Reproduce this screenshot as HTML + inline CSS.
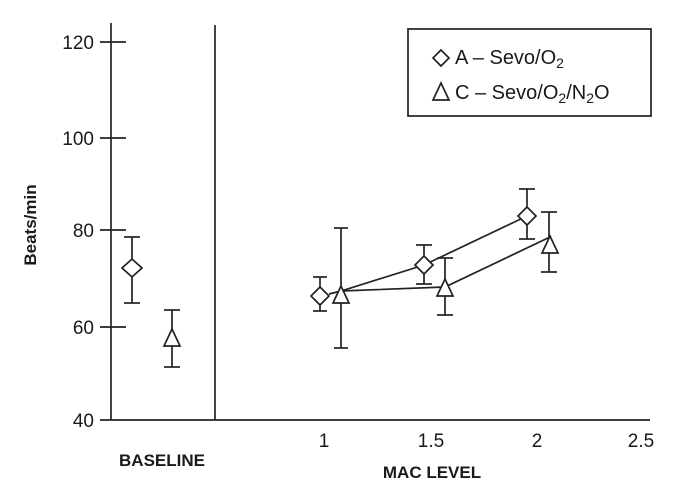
<!DOCTYPE html>
<html><head><meta charset="utf-8"><style>
html,body{margin:0;padding:0;background:#fff}
svg{display:block}
text{font-family:"Liberation Sans",sans-serif;fill:#1a1a1a}
</style></head><body>
<svg width="687" height="501" viewBox="0 0 687 501" xmlns="http://www.w3.org/2000/svg">
<g stroke="#222" stroke-width="1.7" fill="none">
<line x1="111" y1="23" x2="111" y2="420"/>
<line x1="215" y1="25" x2="215" y2="420"/>
<line x1="100" y1="420" x2="650" y2="420"/>
<line x1="100" y1="42" x2="126" y2="42"/>
<line x1="100" y1="138" x2="126" y2="138"/>
<line x1="100" y1="230" x2="126" y2="230"/>
<line x1="100" y1="327" x2="126" y2="327"/>
<rect x="408" y="29" width="243" height="87"/>
<polyline points="329,294 341,291 424,265 527,216"/>
<polyline points="341,291 445,287 550,237"/>
<g>
<line x1="132" y1="237" x2="132" y2="303"/><line x1="124" y1="237" x2="140" y2="237"/><line x1="124" y1="303" x2="140" y2="303"/>
<line x1="172" y1="310" x2="172" y2="367"/><line x1="164" y1="310" x2="180" y2="310"/><line x1="164" y1="367" x2="180" y2="367"/>
<line x1="320" y1="277" x2="320" y2="311"/><line x1="313" y1="277" x2="327" y2="277"/><line x1="313" y1="311" x2="327" y2="311"/>
<line x1="341" y1="228" x2="341" y2="348"/><line x1="334" y1="228" x2="348" y2="228"/><line x1="334" y1="348" x2="348" y2="348"/>
<line x1="424" y1="245" x2="424" y2="284"/><line x1="416" y1="245" x2="432" y2="245"/><line x1="416" y1="284" x2="432" y2="284"/>
<line x1="445" y1="258" x2="445" y2="315"/><line x1="437" y1="258" x2="453" y2="258"/><line x1="437" y1="315" x2="453" y2="315"/>
<line x1="527" y1="189" x2="527" y2="239"/><line x1="519" y1="189" x2="535" y2="189"/><line x1="519" y1="239" x2="535" y2="239"/>
<line x1="549" y1="212" x2="549" y2="272"/><line x1="541" y1="212" x2="557" y2="212"/><line x1="541" y1="272" x2="557" y2="272"/>
</g>
<g fill="#fff">
<polygon points="132,259 142,268 132,277 122,268"/>
<polygon points="172,329 180,346 164,346"/>
<polygon points="320,287 329,296 320,305 311,296"/>
<polygon points="341,286 349,303 333,303"/>
<polygon points="424,256 433,265 424,274 415,265"/>
<polygon points="445,279 453,296 437,296"/>
<polygon points="527,207 536,216 527,225 518,216"/>
<polygon points="550,236 558,253 542,253"/>
<polygon points="441,50 449,58 441,66 433,58"/>
<polygon points="441,83 449,100 433,100"/>
</g>
</g>
<g font-size="19" text-anchor="end">
<text x="94" y="49">120</text>
<text x="94" y="145">100</text>
<text x="94" y="237">80</text>
<text x="94" y="334">60</text>
<text x="94" y="427">40</text>
</g>
<g font-size="19" text-anchor="middle">
<text x="324" y="447">1</text>
<text x="431" y="447">1.5</text>
<text x="537" y="447">2</text>
<text x="641" y="447">2.5</text>
</g>
<text x="162" y="466" font-size="17" font-weight="bold" text-anchor="middle">BASELINE</text>
<text x="432" y="478" font-size="17" font-weight="bold" text-anchor="middle">MAC LEVEL</text>
<text transform="translate(36,225) rotate(-90)" font-size="17" font-weight="bold" text-anchor="middle">Beats/min</text>
<text x="455" y="64" font-size="20">A – Sevo/O<tspan font-size="14" dy="4">2</tspan></text>
<text x="455" y="99" font-size="20">C – Sevo/O<tspan font-size="14" dy="4">2</tspan><tspan dy="-4">/N</tspan><tspan font-size="14" dy="4">2</tspan><tspan dy="-4">O</tspan></text>
</svg>
</body></html>
